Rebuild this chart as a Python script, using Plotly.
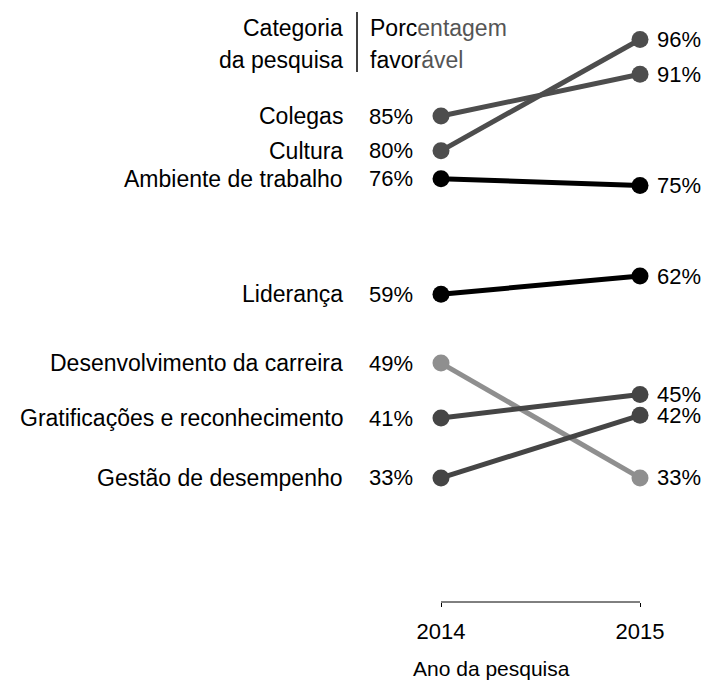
import plotly.graph_objects as go

categories = ["Colegas", "Cultura", "Ambiente de trabalho", "Liderança",
              "Desenvolvimento da carreira", "Gratificações e reconhecimento",
              "Gestão de desempenho"]
years = [2014, 2015]
values_2014 = [85, 80, 76, 59.4, 49.5, 41.6, 33]
values_2015 = [91, 96, 75, 62, 33, 45, 42]
labels_2014 = ["85%", "80%", "76%", "59%", "49%", "41%", "33%"]
labels_2015 = ["91%", "96%", "75%", "62%", "33%", "45%", "42%"]
colors = ["#4d4d4d", "#4d4d4d", "#000000", "#000000", "#8f8f8f", "#454545", "#454545"]

FONT = "Liberation Sans, Arial, Helvetica, sans-serif"
FS = 22
FS_CAT = 23

fig = go.Figure()
for cat, v0, v1, c in zip(categories, values_2014, values_2015, colors):
    fig.add_trace(go.Scatter(
        x=years, y=[v0, v1], mode="lines+markers", name=cat,
        line=dict(color=c, width=5), marker=dict(color=c, size=17),
        showlegend=False, hoverinfo="skip"))

ann = []
for cat, v0, v1, l0, l1 in zip(categories, values_2014, values_2015, labels_2014, labels_2015):
    ann.append(dict(x=years[0], y=v0, text=cat, xanchor="right", yanchor="middle",
                    xshift=-96, showarrow=False, font=dict(size=FS_CAT, color="black")))
    ann.append(dict(x=years[0], y=v0, text=l0, xanchor="right", yanchor="middle",
                    xshift=-26, showarrow=False, font=dict(size=FS, color="black")))
    ann.append(dict(x=years[1], y=v1, text=l1, xanchor="left", yanchor="middle",
                    xshift=15, showarrow=False, font=dict(size=FS, color="black")))

# header
header_left = ["Categoria", "da pesquisa"]
header_right = ["Porc<span style='color:#555555'>entagem</span>",
                "favor<span style='color:#555555'>ável</span>"]
for i, (hl, hr) in enumerate(zip(header_left, header_right)):
    ann.append(dict(x=years[0], y=1, yref="paper", text=hl,
                    xanchor="right", yanchor="middle", xshift=-96, yshift=-28 - 32 * i,
                    showarrow=False, font=dict(size=FS_CAT, color="black")))
    ann.append(dict(x=years[0], y=1, yref="paper", text=hr,
                    xanchor="left", yanchor="middle", xshift=-73, yshift=-28 - 32 * i,
                    showarrow=False, font=dict(size=FS_CAT, color="black")))
# axis title
ann.append(dict(x=years[0], y=0, yref="paper", text="Ano da pesquisa",
                xanchor="left", yanchor="middle", xshift=-30, yshift=-66,
                showarrow=False, font=dict(size=21, color="black")))

shapes = [
    dict(type="line", xref="x", yref="paper", x0=years[0], x1=years[1], y0=0, y1=0,
         line=dict(color="black", width=1)),
    dict(type="line", xref="paper", yref="paper", x0=357/705, x1=357/705,
         y0=1 - 12/602, y1=1 - 72/602, line=dict(color="black", width=1.5)),
]

fig.update_layout(
    width=705, height=684,
    margin=dict(l=0, r=0, t=0, b=82),
    paper_bgcolor="white", plot_bgcolor="white",
    font=dict(family=FONT, size=FS, color="black"),
    xaxis=dict(range=[2014 - 441/199, 2015 + 65/199], tickvals=years,
               ticktext=[str(y) for y in years], ticks="outside", ticklen=4,
               tickcolor="black", showgrid=False, zeroline=False, showline=False,
               ticklabelstandoff=6,
               tickfont=dict(size=FS, color="black"), fixedrange=True),
    yaxis=dict(range=[15.17, 101.67], visible=False, fixedrange=True),
    annotations=ann, shapes=shapes,
)

fig.write_html("out.html", config={"displayModeBar": False},
               post_script="document.body.style.margin='0';document.body.style.overflow='hidden';")
